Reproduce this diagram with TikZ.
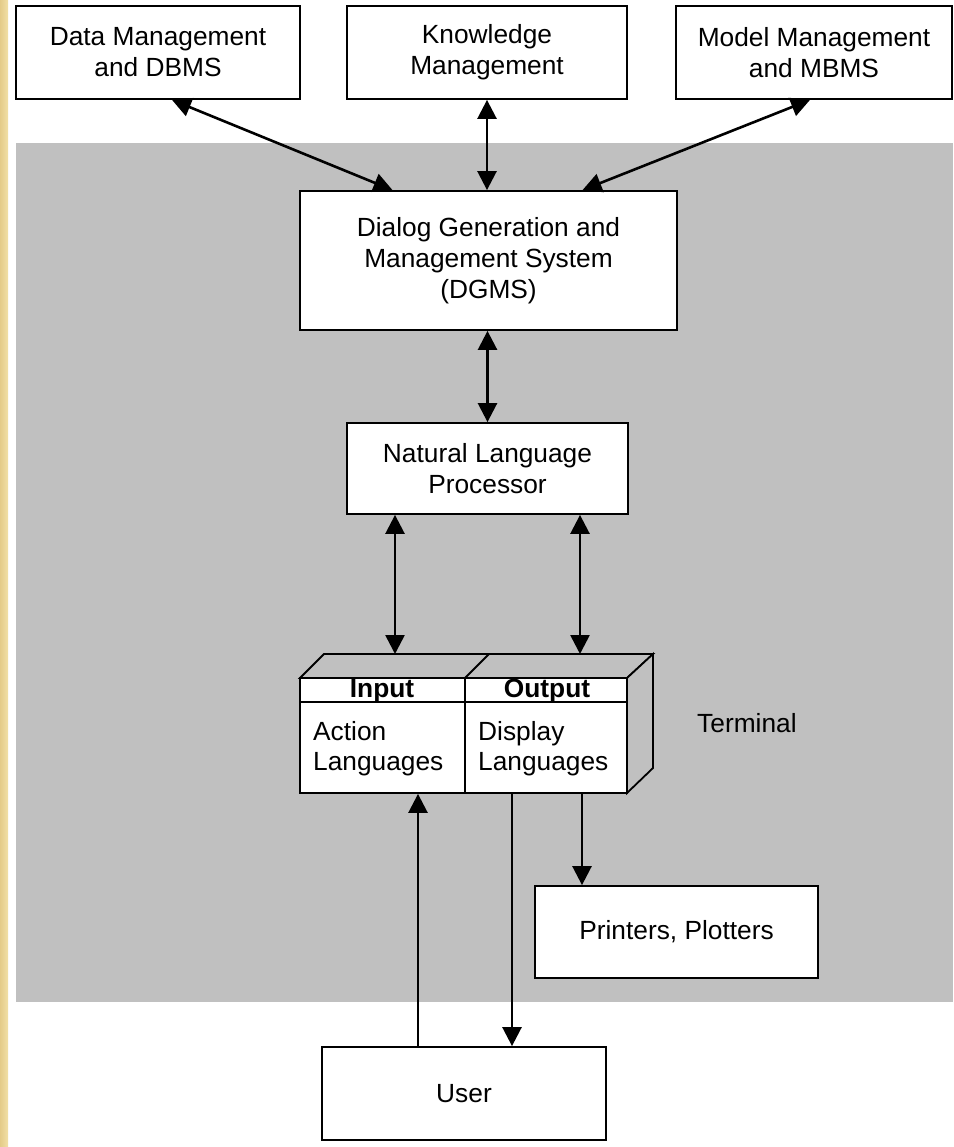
\documentclass[tikz,border=0pt]{standalone}
\usepackage{fontspec}
\setmainfont{Liberation Sans}
\usetikzlibrary{arrows.meta}
\definecolor{panel}{RGB}{192,192,192}
\definecolor{stripA}{RGB}{228,203,136}
\definecolor{stripB}{RGB}{242,224,166}
\begin{document}
\begin{tikzpicture}[x=1pt,y=-1pt,
  box/.style={draw=black,line width=1.8pt,fill=white,align=center,inner sep=0pt,
    font=\fontsize{26.3}{31}\selectfont},
  lbl/.style={inner sep=0pt,font=\fontsize{26.3}{31}\selectfont},
  dbl/.style={line width=2.6pt,{Triangle[length=19pt,width=19pt]}-{Triangle[length=19pt,width=19pt]}},
  one/.style={line width=2.6pt,-{Triangle[length=19pt,width=19pt]}},
  edge/.style={line width=1.8pt,line join=miter}]
\useasboundingbox (0,0) rectangle (953,1147);
\fill[white] (0,0) rectangle (953,1147);
\shade[left color=stripA,right color=stripB] (0,0) rectangle (8,1147);
\fill[panel] (16,143) rectangle (953,1002);
% top boxes
\node[box,minimum width=284pt,minimum height=93pt] (dm) at (158,52.5) {Data Management\\and DBMS};
\node[box,minimum width=280pt,minimum height=93pt] (km) at (487,52.5) {Knowledge\\Management};
\node[box,minimum width=276pt,minimum height=93pt] (mm) at (814,52.5) {Model Management\\and MBMS};
\node[box,minimum width=377pt,minimum height=139pt] (dgms) at (488.5,260.5) {Dialog Generation and\\Management System\\(DGMS)};
\node[box,minimum width=281pt,minimum height=91pt] (nlp) at (487.5,468.5) {Natural Language\\Processor};
% terminal
\fill[panel,draw=black,edge] (300,678) -- (324,654) -- (653,654) -- (627,678) -- cycle;
\fill[panel,draw=black,edge] (627,678) -- (653,654) -- (653,768) -- (627,793) -- cycle;
\draw[edge] (465,678) -- (489,654);
\node[draw=black,edge,fill=white,minimum width=327pt,minimum height=115pt,inner sep=0pt] (term) at (463.5,735.5) {};
\draw[edge] (300,702) -- (627,702);
\draw[edge] (465,678) -- (465,793);
\coordinate (backtop) at (488,654);
\node[lbl,font=\fontsize{26.3}{31}\selectfont\bfseries,anchor=base] (inp) at (382,697) {Input};
\node[lbl,font=\fontsize{26.3}{31}\selectfont\bfseries,anchor=base] (outp) at (547,697) {Output};
\node[lbl,anchor=base west] (act1) at (313,740) {Action};
\node[lbl,anchor=base west] (act2) at (313,770) {Languages};
\node[lbl,anchor=base west] (dis1) at (478,740) {Display};
\node[lbl,anchor=base west] (dis2) at (478,770) {Languages};
\node[lbl,anchor=base west] (termlbl) at (697,732) {Terminal};
% lower boxes
\node[box,minimum width=283pt,minimum height=92pt] (pp) at (676.5,932) {Printers, Plotters};
\node[box,minimum width=284pt,minimum height=93pt] (user) at (464,1093.5) {User};
% connectors
\draw[dbl] ([xshift=14pt]dm.south) -- ([xshift=-96pt]dgms.north);
\draw[dbl] (km.south) -- (km.south |- dgms.north);
\draw[dbl] ([xshift=-4pt]mm.south) -- ([xshift=94pt]dgms.north);
\draw[dbl] (dgms.south -| nlp.north) -- (nlp.north);
\draw[dbl] (nlp.south -| 395,0) -- (backtop -| 395,0);
\draw[dbl] (nlp.south -| 580,0) -- (backtop -| 580,0);
\draw[one] (user.north -| 418,0) -- (term.south -| 418,0);
\draw[one] (term.south -| 512,0) -- (user.north -| 512,0);
\draw[one] (term.south -| 582,0) -- (pp.north -| 582,0);
\end{tikzpicture}
\end{document}
